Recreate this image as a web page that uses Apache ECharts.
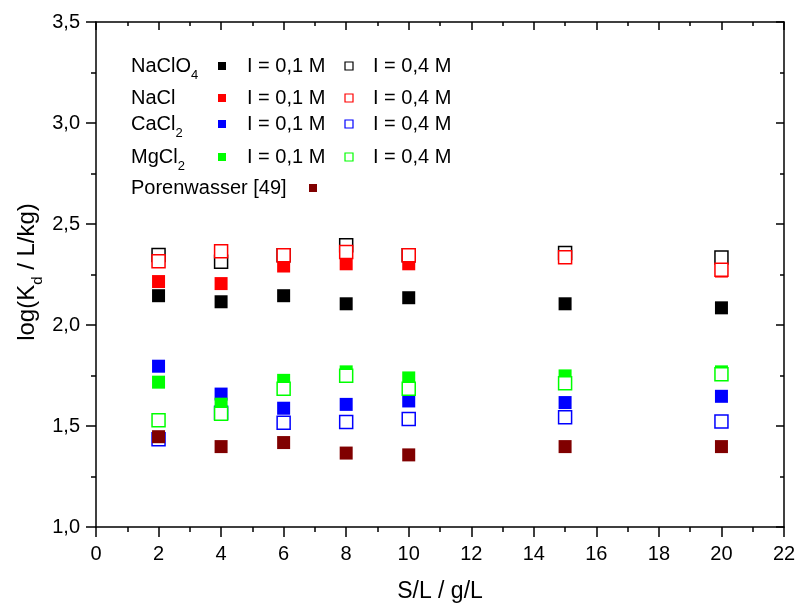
<!DOCTYPE html>
<html><head><meta charset="utf-8">
<script src="https://cdn.jsdelivr.net/npm/echarts@6/dist/echarts.min.js"></script>
<style>html,body{margin:0;padding:0;background:#fff}#c{width:797px;height:604px}</style>
</head><body><div id="c"></div>
<script>
const xs = [2, 4, 6, 8, 10, 15, 20];
const naclo4_01 = [2.145, 2.115, 2.145, 2.105, 2.135, 2.105, 2.085];
const naclo4_04 = [2.346, 2.313, 2.345, 2.395, 2.345, 2.356, 2.334];
const nacl_01 = [2.215, 2.205, 2.292, 2.303, 2.303, 2.335, 2.267];
const nacl_04 = [2.316, 2.365, 2.345, 2.362, 2.345, 2.335, 2.274];
const cacl2_01 = [1.796, 1.658, 1.588, 1.607, 1.624, 1.616, 1.647];
const cacl2_04 = [1.435, 1.565, 1.516, 1.520, 1.535, 1.543, 1.522];
const mgcl2_01 = [1.717, 1.608, 1.726, 1.768, 1.738, 1.748, 1.768];
const mgcl2_04 = [1.529, 1.561, 1.685, 1.749, 1.684, 1.712, 1.756];
const porenwasser = [1.447, 1.398, 1.418, 1.366, 1.357, 1.398, 1.398];

const FONT = '"Liberation Sans", Arial, sans-serif';
const pts = arr => xs.map((x, i) => [x, arr[i]]);

function ser(name, arr, color, open) {
  return {
    name, type: 'scatter', data: pts(arr), symbol: 'rect', symbolSize: 13,
    xAxisIndex: 0, yAxisIndex: 0,
    itemStyle: open ? {color: '#fff', borderColor: color, borderWidth: 1.5, opacity: 1}
                    : {color: color, borderColor: color, borderWidth: 0, opacity: 1},
    emphasis: {disabled: true}, animation: false
  };
}

const chart = echarts.init(document.getElementById('c'), null, {renderer: 'canvas'});
const comma = v => v.toFixed(1).replace('.', ',');

// legend graphics
const rowsY = [66, 98, 124, 157, 188];
const legendRows = [
  {label: 'NaClO{s|4}', color: '#000000'},
  {label: 'NaCl', color: '#ff0000'},
  {label: 'CaCl{s|2}', color: '#0000ff'},
  {label: 'MgCl{s|2}', color: '#00ff00'}
];
const rich = {s: {fontSize: 13, fontFamily: FONT, lineHeight: 13, verticalAlign: 'bottom', fill: '#000'},
              n: {fontSize: 20, fontFamily: FONT, lineHeight: 32, fill: '#000'}};
const graphics = [];
function textEl(x, y, t) {
  const txt = t.replace(/(^|\})([^{}]+)(\{|$)/g, (m, a, b, c) => a + '{n|' + b + '}' + c);
  graphics.push({type: 'text', x: x, y: y, style: {text: txt, rich: rich, font: '20px ' + FONT, fill: '#000', verticalAlign: 'middle', align: 'left'}, silent: true});
}
function markEl(x, y, color, open) {
  const s = 8;
  graphics.push({type: 'rect', x: x - s / 2, y: y - s / 2, shape: {x: 0, y: 0, width: s, height: s},
    style: open ? {fill: '#fff', stroke: color, lineWidth: 1.2} : {fill: color}, silent: true});
}
legendRows.forEach((r, i) => {
  const y = rowsY[i];
  textEl(131, y, r.label);
  markEl(222, y, r.color, false);
  textEl(247, y, 'I = 0,1 M');
  markEl(349, y, r.color, true);
  textEl(373, y, 'I = 0,4 M');
});
textEl(131, rowsY[4], 'Porenwasser [49]');
markEl(313, rowsY[4], '#800000', false);

// y axis title (rotated)
graphics.push({type: 'text', x: 27, y: 272, rotation: Math.PI / 2,
  style: {text: '{n|log(K}{s|d}{n| / L/kg)}', rich: {
    n: {fontSize: 24, fontFamily: FONT, lineHeight: 36, fill: '#000'},
    s: {fontSize: 15, fontFamily: FONT, lineHeight: 15, verticalAlign: 'bottom', fill: '#000'}},
    align: 'center', verticalAlign: 'middle'}, silent: true});

const axisCommon = {
  axisLine: {show: true, onZero: false, lineStyle: {color: '#000', width: 1.5}},
  splitLine: {show: false}
};
const tickOut = {show: true, inside: false, length: 10, lineStyle: {color: '#000', width: 1.5}};
const tickIn = {show: true, inside: true, length: 8, lineStyle: {color: '#000', width: 1.5}};
const minorOut = {show: true, splitNumber: 2, length: 5, lineStyle: {color: '#000', width: 1.5}};
const minorIn = {show: true, splitNumber: 2, length: 4, lineStyle: {color: '#000', width: 1.5}};

chart.setOption({
  animation: false,
  backgroundColor: '#fff',
  grid: {left: 96, right: 13, top: 22, bottom: 77, containLabel: false, outerBoundsMode: 'none'},
  xAxis: [
    Object.assign({type: 'value', min: 0, max: 22, interval: 2, position: 'bottom',
      name: 'S/L / g/L', nameLocation: 'middle', nameGap: 53,
      nameTextStyle: {fontSize: 23, fontFamily: FONT, color: '#000'},
      axisTick: tickOut, minorTick: minorOut,
      axisLabel: {fontSize: 20, fontFamily: FONT, color: '#000', margin: 17}}, axisCommon),
    Object.assign({type: 'value', min: 0, max: 22, interval: 2, position: 'top',
      axisTick: tickIn, minorTick: minorIn, axisLabel: {show: false}}, axisCommon)
  ],
  yAxis: [
    Object.assign({type: 'value', min: 1.0, max: 3.5, interval: 0.5, position: 'left',
      axisTick: tickOut, minorTick: minorOut,
      axisLabel: {fontSize: 20, fontFamily: FONT, color: '#000', margin: 16, formatter: comma}}, axisCommon),
    Object.assign({type: 'value', min: 1.0, max: 3.5, interval: 0.5, position: 'right',
      axisTick: tickIn, minorTick: minorIn, axisLabel: {show: false}}, axisCommon)
  ],
  series: [
    ser('NaClO4 0,1', naclo4_01, '#000000', false),
    ser('NaClO4 0,4', naclo4_04, '#000000', true),
    ser('NaCl 0,1', nacl_01, '#ff0000', false),
    ser('NaCl 0,4', nacl_04, '#ff0000', true),
    ser('CaCl2 0,1', cacl2_01, '#0000ff', false),
    ser('CaCl2 0,4', cacl2_04, '#0000ff', true),
    ser('MgCl2 0,1', mgcl2_01, '#00ff00', false),
    ser('MgCl2 0,4', mgcl2_04, '#00ff00', true),
    ser('Porenwasser', porenwasser, '#800000', false)
  ],
  graphic: graphics
});
</script>
</body></html>
